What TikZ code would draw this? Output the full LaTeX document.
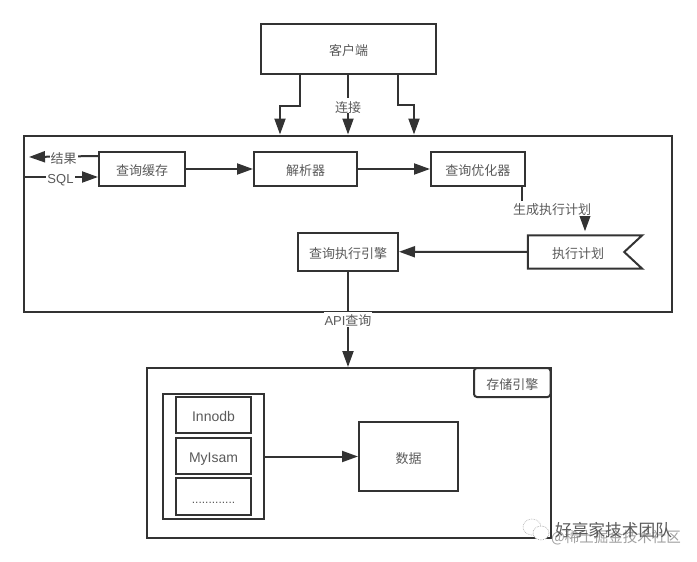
\documentclass[tikz,border=0pt]{standalone}
\usepackage{fontspec}
\setmainfont{Liberation Sans}
\newfontfamily\cjk{Noto Sans CJK SC}
\usetikzlibrary{arrows.meta,calc}
\definecolor{ink}{HTML}{333333}
\definecolor{txtc}{HTML}{5A5A5A}
\tikzset{
  x=1pt,y=-1pt,
  boxn/.style={draw=ink,line width=2pt,fill=white,inner sep=0pt,font=\cjk\fontsize{13}{15}\selectfont,text=txtc,text height=13pt,text depth=0pt,minimum width=#1},
  boxn/.default=10pt,
  conn/.style={draw=ink,line width=2pt,-{Triangle[length=16pt,width=11pt]}},
  plainl/.style={draw=ink,line width=2pt},
  lbl/.style={fill=white,inner sep=1pt,font=\cjk\fontsize{13}{15}\selectfont,text=txtc,text height=13pt,text depth=0pt},
  latin/.style={font=\fontsize{14}{16}\selectfont},
}
\begin{document}
\begin{tikzpicture}
\useasboundingbox (0,0) rectangle (697,562);
\fill[white] (0,0) rectangle (697,562);
% containers
\node[boxn=175pt,minimum height=50pt] (client) at (348.5,49) {客户端};
\node[boxn=648pt,minimum height=176pt] (main) at (348,223.5) {};
\node[boxn=404pt,minimum height=170pt] (store) at (348.5,453) {};
\node[boxn=76.5pt,minimum height=29pt,rounded corners=3pt,anchor=north east] (storelbl) at (store.north east) {存储引擎};
% query layer
\node[boxn=86pt,minimum height=34pt] (cache) at (142,169) {查询缓存};
\node[boxn=103pt,minimum height=34pt] (parser) at (305.5,169) {解析器};
\node[boxn=93.5pt,minimum height=34pt] (opt) at (477.75,169) {查询优化器};
\node[boxn=100pt,minimum height=37.5pt] (engine) at (348,251.75) {查询执行引擎};
\node[lbl,inner sep=0pt,fill=none,minimum width=114pt,minimum height=33pt] (plan) at (585,252) {\hspace{-14pt}执行计划};
\draw[plainl,line join=miter] (plan.north west) -- (plan.north east) -- ([xshift=-18pt]plan.east) -- (plan.south east) -- (plan.south west) -- cycle;
% storage layer
\node[boxn=101pt,minimum height=125pt] (engines) at (213.5,456.5) {};
\node[boxn=75pt,minimum height=36pt,latin] (innodb) at (213.5,415) {Innodb};
\node[boxn=75pt,minimum height=36pt,latin] (myisam) at (213.5,456) {MyIsam};
\node[boxn=75pt,minimum height=37pt,font=\fontsize{12}{14}\selectfont] (more) at (213.5,496.5) {.............};
\node[boxn=99pt,minimum height=69pt] (data) at (408.5,456.5) {数据};
% connectors
\draw[conn] ([xshift=-49pt]client.south) -- ++(0,31) -| ([xshift=-68pt]main.north);
\draw[conn] (client.south -| main.north) -- node[lbl,pos=0.52] {连接} (main.north);
\draw[conn] ([xshift=49.5pt]client.south) -- ++(0,30) -| ([xshift=66pt]main.north);
\coordinate (resulttip) at (29,157);
\draw[conn] ([yshift=-5pt]cache.north west) -- node[lbl,pos=0.5] {结果} (resulttip);
\draw[conn] (main.west |- 0,177) -- node[lbl,pos=0.5,font=\fontsize{13}{15}\selectfont] {SQL} (cache.west |- 0,177);
\draw[conn] (cache) -- (parser);
\draw[conn] (parser) -- (opt);
\coordinate (plantip) at ([yshift=4pt]plan.north);
\draw[conn] ([xshift=-3.5pt]opt.south east) -- ++(0,23) -| (plantip);
\node[lbl] (genlbl) at (552,208) {生成执行计划};
\draw[conn] (plan.west) -- (engine.east);
\draw[conn] (engine.south) -- node[lbl,pos=0.5] {\fontsize{13}{15}\selectfont\rmfamily API\cjk 查询} (store.north -| engine.south);
\draw[conn] (engines.east) -- (data.west);
% watermark
\filldraw[fill=white,draw=gray!60,line width=0.7pt,densely dotted] (532,527) ellipse (9pt and 8pt);
\filldraw[fill=white,draw=gray!70,line width=0.7pt,densely dotted] (541,533) ellipse (8pt and 7pt);
\node[inner sep=0pt,text=gray!75,font=\cjk\fontsize{14.5}{16}\selectfont] (wm2) at (616,538) {@稀土掘金技术社区};
\node[inner sep=0pt,text=txtc,font=\cjk\fontsize{16.7}{18}\selectfont] (wm1) at (613.5,530) {好享家技术团队};
\end{tikzpicture}
\end{document}
